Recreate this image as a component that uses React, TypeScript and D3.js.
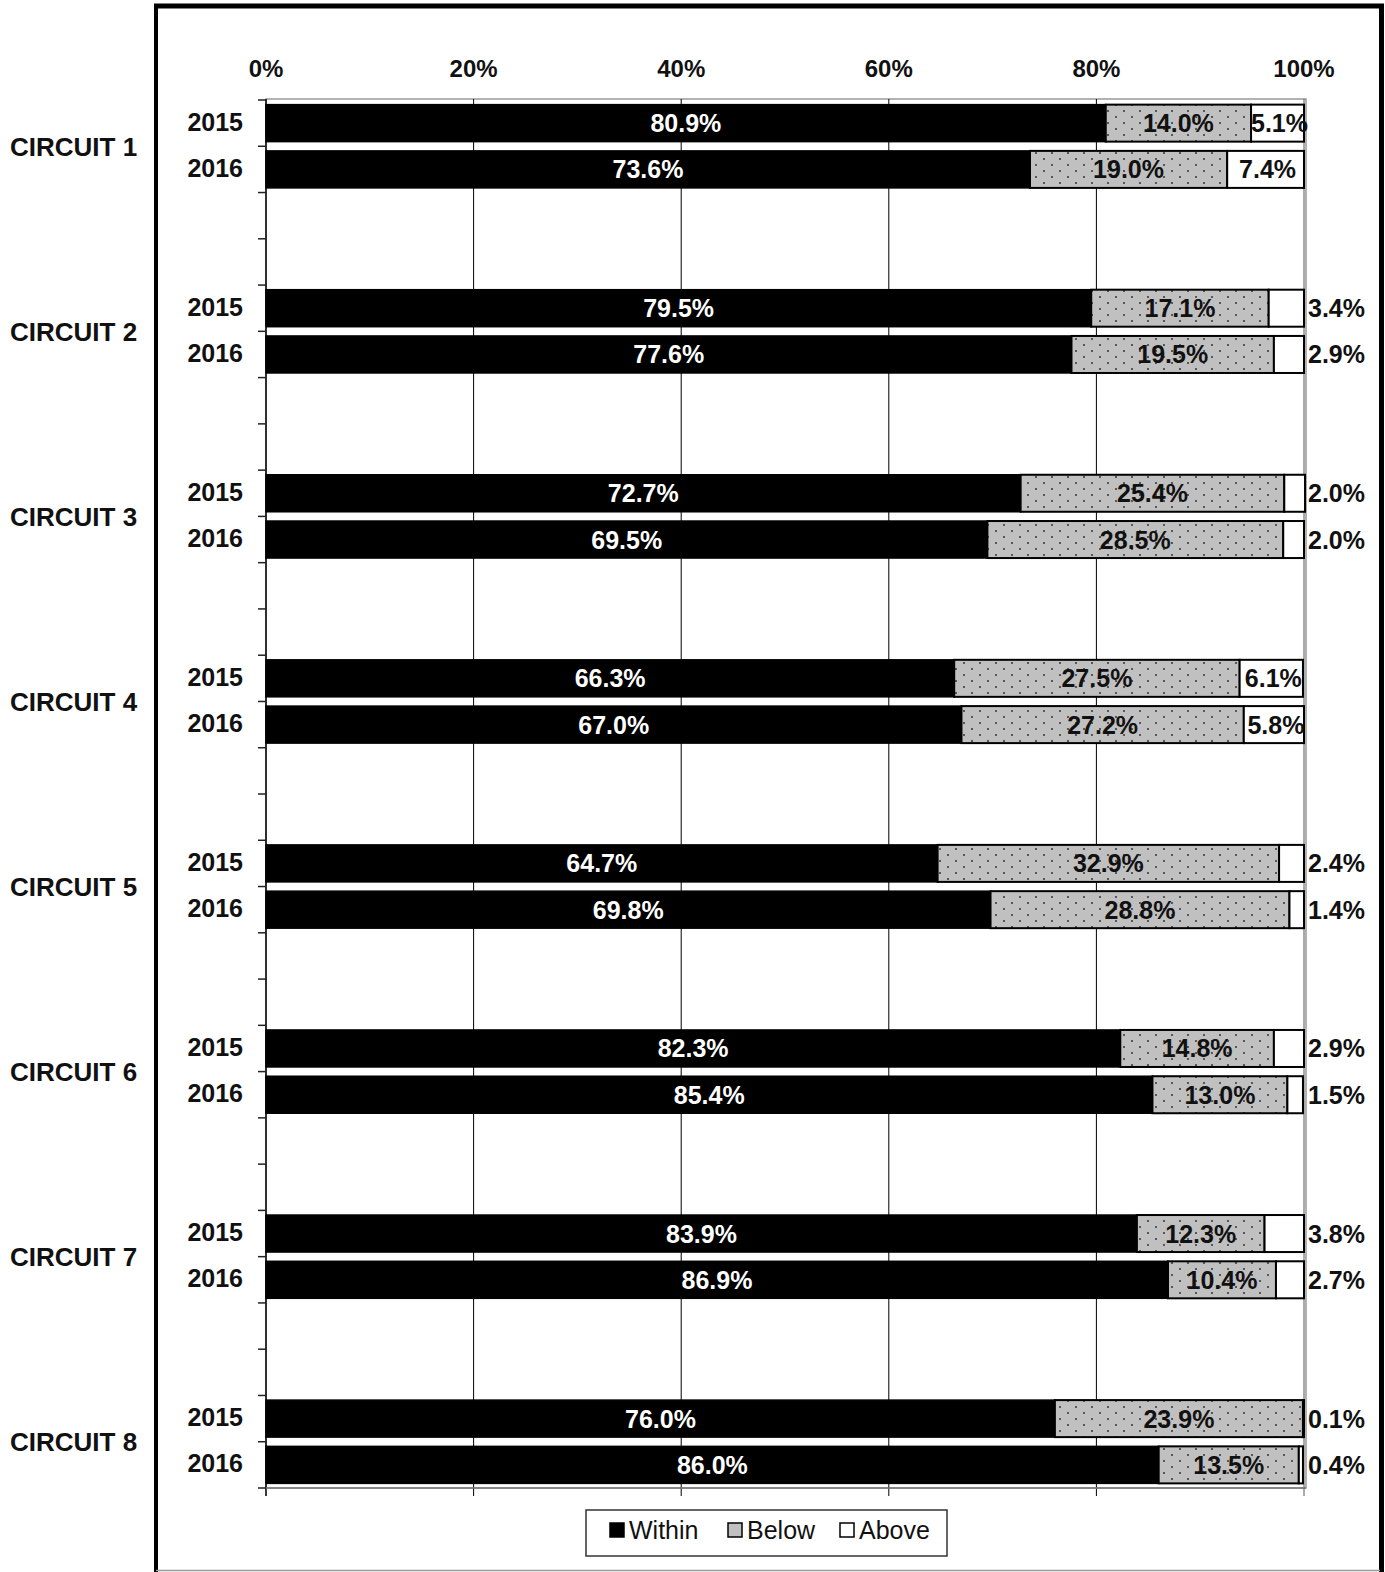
import React from "react";
import * as d3 from "d3";

const circuits = ["CIRCUIT 1", "CIRCUIT 2", "CIRCUIT 3", "CIRCUIT 4", "CIRCUIT 5", "CIRCUIT 6", "CIRCUIT 7", "CIRCUIT 8"];
const years = ["2015", "2016"];
const withinVals = [80.9, 73.6, 79.5, 77.6, 72.7, 69.5, 66.3, 67.0, 64.7, 69.8, 82.3, 85.4, 83.9, 86.9, 76.0, 86.0];
const belowVals = [14.0, 19.0, 17.1, 19.5, 25.4, 28.5, 27.5, 27.2, 32.9, 28.8, 14.8, 13.0, 12.3, 10.4, 23.9, 13.5];
const aboveVals = [5.1, 7.4, 3.4, 2.9, 2.0, 2.0, 6.1, 5.8, 2.4, 1.4, 2.9, 1.5, 3.8, 2.7, 0.1, 0.4];
const xTicks = [0, 20, 40, 60, 80, 100];
const legendItems = ["Within", "Below", "Above"];

const W = 1385;
const H = 1572;
const FONT = "'Liberation Sans', Arial, sans-serif";

// build category list: per circuit 2015, 2016, blank, blank (last circuit no blanks)
const cats: string[] = [];
circuits.forEach((c, i) => {
  years.forEach((y) => cats.push(`${c}|${y}`));
  if (i < circuits.length - 1) {
    cats.push(`${c}|b1`);
    cats.push(`${c}|b2`);
  }
});

export default function App() {
  const plotL = 266, plotR = 1304, plotT = 100, plotB = 1488;
  const x = d3.scaleLinear().domain([0, 100]).range([plotL, plotR]);
  const y = d3.scaleBand<string>().domain(cats).range([plotT, plotB]).paddingInner(0.2).paddingOuter(0.1);
  const step = y.step();
  const bw = y.bandwidth();

  const rows = circuits.flatMap((c, ci) =>
    years.map((yr, yi) => {
      const idx = ci * 2 + yi;
      return { key: `${c}|${yr}`, yr, w: withinVals[idx], b: belowVals[idx], a: aboveVals[idx] };
    })
  );

  const tickYs = d3.range(cats.length + 1).map((k) => plotT + k * step);

  return (
    <svg width={W} height={H} style={{ position: "absolute", left: 0, top: 0, background: "#fff" }} fontFamily={FONT}>
      <defs>
        <pattern id="dots" patternUnits="userSpaceOnUse" width="16" height="12">
          <rect width="16" height="12" fill="#c0c0c0" />
          <circle cx="4" cy="3" r="1" fill="#333" />
          <circle cx="12" cy="9" r="1" fill="#333" />
        </pattern>
      </defs>
      <rect x={0} y={0} width={W} height={H} fill="#fff" />
      {/* outer frame */}
      <line x1={156} y1={4} x2={156} y2={H} stroke="#000" strokeWidth={4} />
      <line x1={154} y1={6} x2={1384} y2={6} stroke="#000" strokeWidth={5} />
      <line x1={1381.5} y1={4} x2={1381.5} y2={H} stroke="#000" strokeWidth={5} />
      <line x1={156} y1={1570.5} x2={1380} y2={1570.5} stroke="#999" strokeWidth={1.5} />

      {/* plot area border */}
      <rect x={plotL} y={plotT - 1} width={plotR - plotL + 2} height={plotB - plotT + 1} fill="none" stroke="#999" strokeWidth={1.5} />

      {/* gridlines */}
      {xTicks.map((t) => (
        <line key={`g${t}`} x1={x(t)} x2={x(t)} y1={plotT - 1} y2={plotB + 8} stroke={t === 100 ? "#555" : "#000"} strokeWidth={1} />
      ))}
      {/* left axis */}
      <line x1={plotL} x2={plotL} y1={plotT - 1} y2={plotB + 8} stroke="#222" strokeWidth={1.5} />
      <line x1={plotL} x2={plotR + 2} y1={plotB} y2={plotB} stroke="#777" strokeWidth={1.5} />
      {tickYs.map((ty, i) => (
        <line key={`t${i}`} x1={258} x2={plotL} y1={ty} y2={ty} stroke="#222" strokeWidth={1.5} />
      ))}

      {/* top axis labels */}
      {xTicks.map((t) => (
        <text key={`xl${t}`} x={x(t)} y={77} textAnchor="middle" fontSize={24} fontWeight="bold" fill="#111">
          {t}%
        </text>
      ))}

      {/* bars */}
      {rows.map((r) => {
        const y0 = y(r.key)!;
        const cy = y0 + bw / 2;
        const x0 = x(0), x1 = x(r.w), x2 = x(r.w + r.b), x3 = x(r.w + r.b + r.a);
        const aboveInside = r.a >= 5;
        return (
          <g key={r.key}>
            <rect x={x0} y={y0} width={x1 - x0} height={bw} fill="#000" stroke="#000" strokeWidth={1.5} />
            <rect x={x1} y={y0} width={x2 - x1} height={bw} fill="url(#dots)" stroke="#000" strokeWidth={2} />
            <rect x={x2} y={y0} width={Math.max(0, x3 - x2)} height={bw} fill="#fff" stroke="#000" strokeWidth={2} />
            <text x={(x0 + x1) / 2} y={cy} dy="0.36em" textAnchor="middle" fontSize={25} fontWeight="bold" fill="#fff">
              {r.w.toFixed(1)}%
            </text>
            <text x={(x1 + x2) / 2} y={cy} dy="0.36em" textAnchor="middle" fontSize={25} fontWeight="bold" fill="#111">
              {r.b.toFixed(1)}%
            </text>
            <text
              x={aboveInside ? (x2 + x3) / 2 + 2 : plotR + 4}
              y={cy}
              dy="0.36em"
              textAnchor={aboveInside ? "middle" : "start"}
              fontSize={25}
              fontWeight="bold"
              fill="#111"
            >
              {r.a.toFixed(1)}%
            </text>
            <text x={243} y={cy} dy="0.3em" textAnchor="end" fontSize={25} fontWeight="bold" fill="#111">
              {r.yr}
            </text>
          </g>
        );
      })}

      {/* circuit labels */}
      {circuits.map((c) => {
        const a = y(`${c}|2015`)! + bw / 2;
        const b = y(`${c}|2016`)! + bw / 2;
        return (
          <text key={c} x={10} y={(a + b) / 2} dy="0.36em" fontSize={26} fontWeight="bold" fill="#111">
            {c}
          </text>
        );
      })}

      {/* legend */}
      <rect x={586} y={1510} width={361} height={46} fill="#fff" stroke="#333" strokeWidth={1.5} />
      {legendItems.map((name, i) => {
        const sx = [610, 728, 840][i];
        const fill = i === 0 ? "#000" : i === 1 ? "#c0c0c0" : "#fff";
        return (
          <g key={name}>
            <rect x={sx} y={1523} width={14} height={14} fill={fill} stroke="#000" strokeWidth={1.5} />
            <text x={sx + 19} y={1530} dy="0.36em" fontSize={25} fill="#111">
              {name}
            </text>
          </g>
        );
      })}
    </svg>
  );
}
